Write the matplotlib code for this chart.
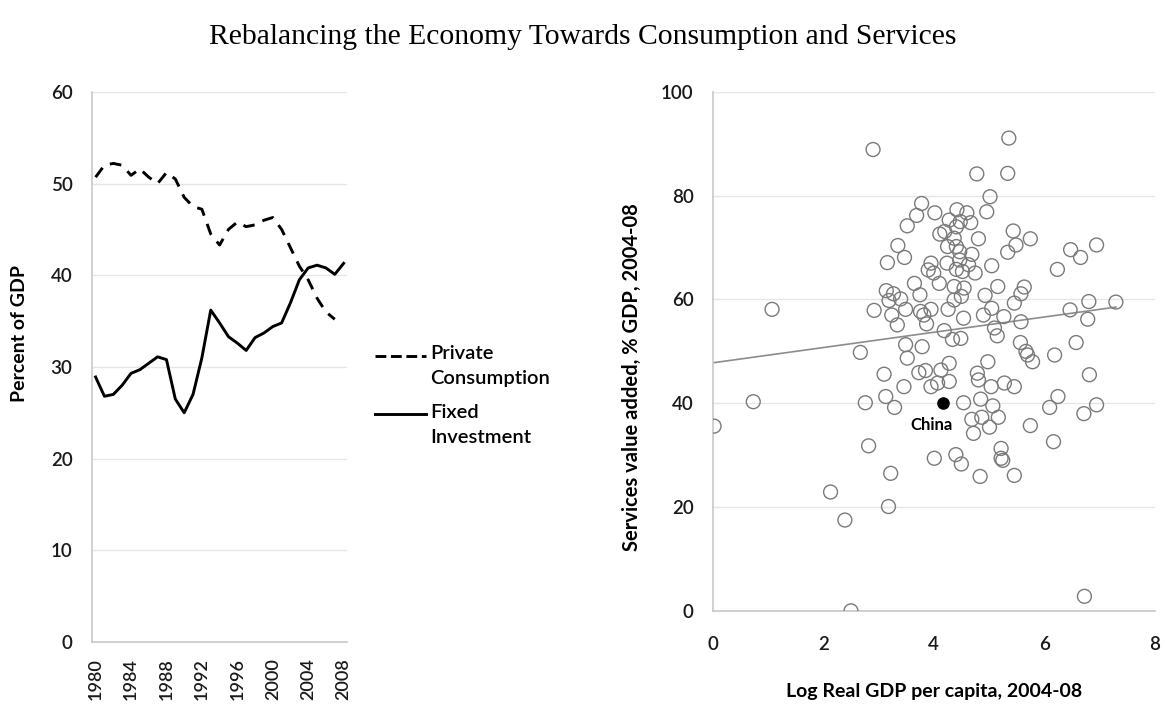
import numpy as np
import matplotlib
matplotlib.use("Agg")
from matplotlib import pyplot as plt
from matplotlib.lines import Line2D

# Données du panneau gauche (en % du PIB)
years = list(range(1980, 2009))
private_consumption = [50.7, 52.0, 52.2, 52.0, 50.9, 51.6, 50.7, 50.0, 51.2, 50.5,
                       48.5, 47.5, 47.2, 44.5, 43.3, 45.0, 45.8, 45.3, 45.5, 46.0,
                       46.3, 45.0, 43.0, 41.0, 39.5, 37.5, 36.0, 35.2, None]
fixed_investment = [28.9, 26.8, 27.0, 28.0, 29.3, 29.7, 30.4, 31.1, 30.8, 26.5,
                    25.0, 27.0, 31.0, 36.2, 34.8, 33.3, 32.6, 31.8, 33.2, 33.7,
                    34.4, 34.8, 37.0, 39.5, 40.8, 41.1, 40.8, 40.1, 41.3]

# Données du nuage de points (log PIB réel par habitant, services % PIB)
log_gdp = [1.07, 2.90, 5.36, 4.78, 5.34, 5.02, 3.78, 3.69, 3.52, 4.02,
           4.42, 4.60, 4.96, 4.28, 4.48, 4.67, 4.41, 5.44, 4.11, 4.20,
           4.37, 4.81, 5.75, 5.49, 5.34, 3.35, 3.47, 4.25, 4.41, 4.47,
           4.69, 6.48, 6.66, 6.95, 3.16, 3.95, 4.24, 4.47, 4.63, 3.90,
           4.00, 4.41, 4.52, 4.75, 5.05, 6.24, 3.65, 4.10, 4.37, 4.55,
           5.16, 5.64, 3.14, 3.27, 3.75, 4.50, 4.93, 5.58, 3.19, 3.40,
           4.37, 5.46, 6.81, 7.30, 2.92, 3.24, 3.49, 3.76, 3.82, 3.95,
           4.26, 4.54, 4.90, 5.05, 5.27, 6.47, 6.79, 3.34, 3.87, 5.58,
           5.10, 4.19, 4.34, 4.49, 5.15, 3.49, 3.79, 5.57, 6.58, 5.67,
           2.67, 3.52, 5.70, 5.79, 6.19, 4.28, 4.98, 3.10, 3.73, 3.85,
           4.13, 4.79, 6.82, 4.81, 4.28, 4.07, 3.95, 3.46, 5.04, 5.28,
           5.46, 3.13, 6.25, 2.76, 4.54, 4.85, 5.07, 3.29, 6.10, 6.95,
           0.73, 0.02, 4.69, 4.87, 5.17, 5.01, 4.72, 5.75, 6.72, 2.82,
           6.17, 5.22, 5.22, 5.25, 4.01, 4.40, 4.50, 4.84, 5.46, 3.22,
           2.13, 3.18, 2.39, 2.50, 6.73]
services_share = [58.1, 88.9, 91.1, 84.2, 84.3, 79.8, 78.5, 76.2, 74.2, 76.7,
                  77.3, 76.7, 76.9, 75.3, 75.0, 74.8, 74.0, 73.2, 72.6, 73.1,
                  71.8, 71.7, 71.7, 70.5, 69.1, 70.4, 68.1, 70.2, 70.2, 69.2,
                  68.7, 69.6, 68.1, 70.5, 67.1, 67.0, 67.0, 67.6, 66.7, 65.7,
                  65.1, 65.8, 65.4, 65.1, 66.5, 65.8, 63.1, 63.1, 62.5, 62.2,
                  62.5, 62.4, 61.7, 61.1, 60.9, 60.6, 60.8, 61.1, 59.8, 60.1,
                  59.9, 59.3, 59.6, 59.5, 57.9, 57.0, 58.1, 57.7, 57.0, 58.1,
                  58.1, 56.4, 57.0, 58.3, 56.7, 58.0, 56.2, 55.1, 55.3, 55.7,
                  54.5, 54.0, 52.3, 52.5, 53.0, 51.3, 50.9, 51.7, 51.7, 50.0,
                  49.8, 48.7, 49.3, 48.0, 49.3, 47.7, 48.0, 45.6, 45.9, 46.3,
                  46.4, 45.8, 45.5, 44.5, 44.2, 43.9, 43.2, 43.2, 43.2, 43.9,
                  43.2, 41.3, 41.3, 40.1, 40.1, 40.8, 39.5, 39.2, 39.2, 39.7,
                  40.3, 35.6, 36.9, 37.3, 37.3, 35.4, 34.2, 35.7, 38.0, 31.8,
                  32.6, 31.3, 29.4, 29.0, 29.4, 30.1, 28.3, 25.9, 26.1, 26.5,
                  22.9, 20.1, 17.5, 0.0, 2.8]
china_x, china_y = 4.16, 40.1
trend_intercept, trend_slope = 47.8, 1.47

sans = ["Lato", "DejaVu Sans"]
plt.rcParams["font.family"] = sans

fig = plt.figure(figsize=(11.65, 7.07), dpi=100)
fig.text(0.5, 0.948, "Rebalancing the Economy Towards Consumption and Services",
         ha="center", va="center", fontsize=21.3, family="Liberation Serif")

grid_col = "#e6e6e6"
spine_col = "#c8c8c8"

# Panneau gauche : séries temporelles
ax1 = fig.add_axes([0.079, 0.092, 0.219, 0.778])
pc = np.array([np.nan if v is None else v for v in private_consumption])
ax1.plot(years, pc, color="black", lw=2.1, linestyle=(0, (4, 3)))
ax1.plot(years, fixed_investment, color="black", lw=2.1, solid_joinstyle="round")
ax1.set_xlim(1979.6, 2008.4)
ax1.set_ylim(0, 60)
ax1.set_yticks(range(0, 61, 10))
ax1.set_xticks(range(1980, 2009, 4))
ax1.set_xticklabels([str(y) for y in range(1980, 2009, 4)], rotation=90)
ax1.set_ylabel("Percent of GDP", fontsize=14, fontweight="bold")
ax1.yaxis.set_label_coords(-0.25, 0.56)
ax1.yaxis.grid(True, color=grid_col, lw=1)
ax1.set_axisbelow(True)

# Panneau droit : nuage de points
ax2 = fig.add_axes([0.612, 0.136, 0.379, 0.734])
ax2.scatter(log_gdp, services_share, s=100, facecolors="none",
            edgecolors="#7a7a7a", linewidths=1.0, zorder=3)
ax2.scatter([china_x], [china_y], s=65, color="black", zorder=4)
ax2.text(china_x - 0.2, china_y - 4.2, "China", ha="center", va="center",
         fontsize=12, fontweight="bold")
tx = np.array([0, max(log_gdp)])
ax2.plot(tx, trend_intercept + trend_slope * tx, color="#8c8c8c", lw=1.2, zorder=2)
ax2.set_xlim(0, 8)
ax2.set_ylim(0, 100)
ax2.set_xticks(range(0, 9, 2))
ax2.set_yticks(range(0, 101, 20))
ax2.set_xlabel("Log Real GDP per capita, 2004-08", fontsize=14,
               fontweight="bold", labelpad=22)
ax2.set_ylabel("Services value added, % GDP, 2004-08", fontsize=14.5,
               fontweight="bold")
ax2.yaxis.set_label_coords(-0.16, 0.45)
ax2.yaxis.grid(True, color=grid_col, lw=1)
ax2.set_axisbelow(True)

for ax in (ax1, ax2):
    for side in ("top", "right"):
        ax.spines[side].set_visible(False)
    for side in ("left", "bottom"):
        ax.spines[side].set_color(spine_col)
        ax.spines[side].set_linewidth(1.2)
    ax.tick_params(length=0, labelsize=13.5, colors="#1a1a1a")
    for lab in ax.get_xticklabels() + ax.get_yticklabels():
        lab.set_fontweight("semibold")
ax1.tick_params(axis="y", pad=14)
ax1.tick_params(axis="x", pad=12, labelsize=13)
ax2.tick_params(axis="y", pad=14)
ax2.tick_params(axis="x", pad=18)

# Légende dessinée à la main, poignée alignée sur la première ligne
legend_items = [("Private\nConsumption", ax1.lines[0]), ("Fixed\nInvestment", ax1.lines[1])]
for i, (label, src) in enumerate(legend_items):
    y0 = 0.497 - i * 0.083
    fig.add_artist(Line2D([0.322, 0.366], [y0, y0], transform=fig.transFigure,
                          color="black", lw=src.get_linewidth(),
                          linestyle=src.get_linestyle()))
    fig.text(0.369, y0 + 0.015, label, ha="left", va="top", fontsize=14.5,
             fontweight="semibold", linespacing=1.6)

fig.savefig("out.png", dpi=100)
